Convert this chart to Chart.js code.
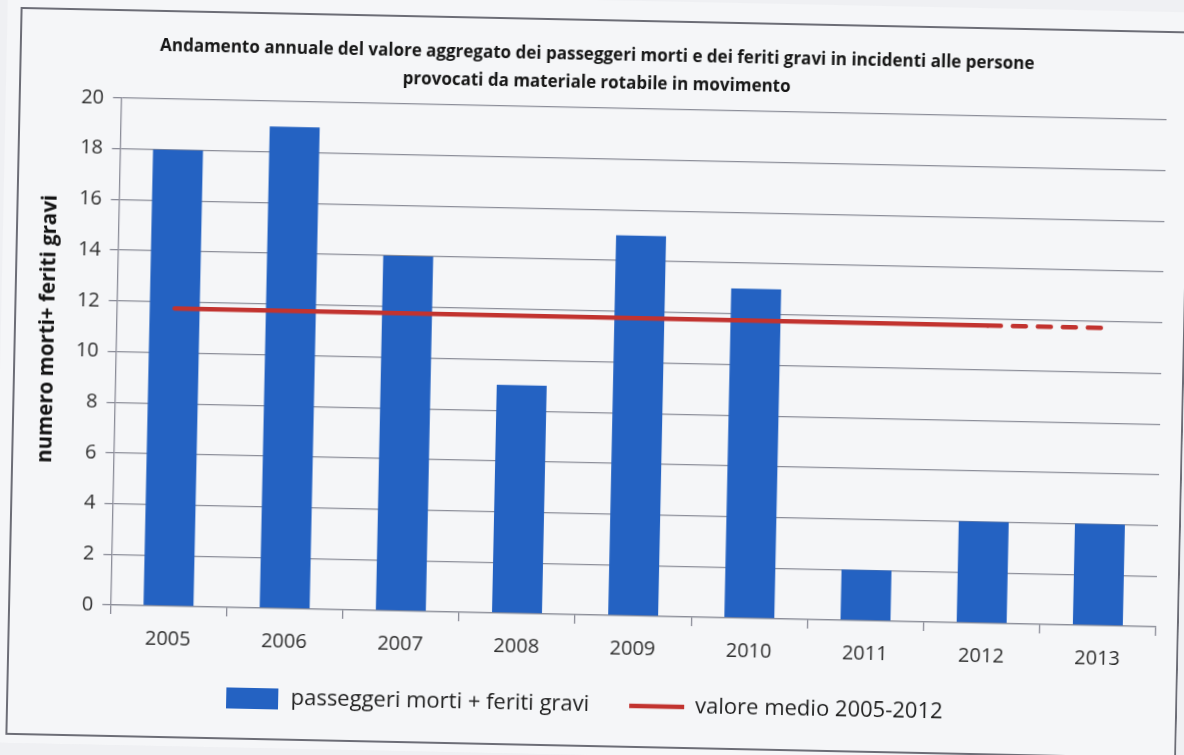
<!DOCTYPE html>
<html lang="it">
<head>
<meta charset="utf-8">
<title>Passeggeri morti e feriti gravi</title>
<script src="https://cdn.jsdelivr.net/npm/chart.js@4.4.1/dist/chart.umd.min.js"></script>
<style>
  html, body { margin: 0; padding: 0; background: #eff0f3; overflow: hidden; }
  #foglio {
    position: absolute; left: 0; top: 0;
    width: 1184px; height: 755px;
    transform: rotate(1.2deg);
    transform-origin: 592px 377px;
  }
  canvas { display: block; }
</style>
</head>
<body>
<div id="foglio"><canvas id="grafico" width="1184" height="755"></canvas></div>
<script>
// dati
const anni = ['2005', '2006', '2007', '2008', '2009', '2010', '2011', '2012', '2013'];
const mortiFeritiGravi = [18, 19, 14, 9, 15, 13, 2, 4, 4];
const valoreMedio = [11.75, 11.75, 11.75, 11.75, 11.75, 11.75, 11.75, 11.75, 11.75];
const asseY = { min: 0, max: 20, passo: 2 };

const titolo = [
  'Andamento annuale del valore aggregato dei passeggeri morti e dei feriti gravi in incidenti alle persone',
  'provocati da materiale rotabile in movimento'
];
const titoloAsseY = 'numero morti+ feriti gravi';
const etichettaBarre = 'passeggeri morti + feriti gravi';
const etichettaMedia = 'valore medio 2005-2012';

// colori
const BLU = '#2462c2';
const ROSSO = '#c2332f';
const GRIGIO = '#8c8e99';
const TESTO = '#2f2f2f';
const CARTA = '#f5f6f8';

Chart.defaults.font.family = "'Open Sans', sans-serif";

// quadratino blu per la legenda delle barre
const quadratoBlu = document.createElement('canvas');
quadratoBlu.width = 52;
quadratoBlu.height = 21;
const qctx = quadratoBlu.getContext('2d');
qctx.fillStyle = BLU;
qctx.fillRect(0, 0, 52, 21);

// sfondo e cornice del riquadro
const cornice = {
  id: 'cornice',
  beforeDraw(chart) {
    const ctx = chart.ctx;
    ctx.save();
    ctx.fillStyle = CARTA;
    ctx.fillRect(0, 0, chart.width, chart.height);
    ctx.strokeStyle = '#6c6d76';
    ctx.lineWidth = 2;
    ctx.strokeRect(14, 20, 1169, 726);
    ctx.restore();
  }
};

const ctx = document.getElementById('grafico').getContext('2d');
new Chart(ctx, {
  type: 'bar',
  data: {
    labels: anni,
    datasets: [
      {
        label: etichettaBarre,
        data: mortiFeritiGravi,
        backgroundColor: BLU,
        borderWidth: 0,
        categoryPercentage: 1,
        barPercentage: 0.43,
        order: 1
      },
      {
        type: 'line',
        label: etichettaMedia,
        data: valoreMedio,
        borderColor: ROSSO,
        backgroundColor: ROSSO,
        borderWidth: 4.5,
        borderCapStyle: 'round',
        pointRadius: 0,
        fill: false,
        order: 0,
        segment: {
          // dopo il 2012 la media e' solo proiettata
          borderDash: c => c.p0DataIndex >= 7 ? [13, 12] : undefined
        }
      }
    ]
  },
  options: {
    responsive: false,
    animation: false,
    devicePixelRatio: 1,
    layout: { padding: { left: 20, right: 23, top: 0, bottom: 29 } },
    plugins: {
      title: {
        display: true,
        text: titolo,
        color: '#161616',
        font: { size: 17, weight: 'bold', lineHeight: '28px' },
        padding: { top: 41, bottom: 11 }
      },
      legend: {
        position: 'bottom',
        labels: {
          usePointStyle: true,
          pointStyleWidth: 55,
          boxHeight: 21,
          padding: 40,
          color: '#1e1e1e',
          font: { size: 22 },
          generateLabels(chart) {
            const voci = Chart.defaults.plugins.legend.labels.generateLabels(chart);
            voci.sort((a, b) => a.datasetIndex - b.datasetIndex);
            voci.forEach(v => {
              v.pointStyle = v.datasetIndex === 0 ? quadratoBlu : 'line';
            });
            return voci;
          }
        }
      },
      tooltip: { enabled: false }
    },
    scales: {
      x: {
        grid: {
          offset: true,
          drawOnChartArea: false,
          drawTicks: true,
          tickLength: 9,
          color: GRIGIO,
          lineWidth: 1.3
        },
        border: { color: GRIGIO, width: 1.3 },
        ticks: { color: TESTO, font: { size: 20 }, padding: 12 },
        afterFit(scale) { scale.height -= 18; }
      },
      y: {
        min: asseY.min,
        max: asseY.max,
        ticks: { stepSize: asseY.passo, color: TESTO, font: { size: 20 }, padding: 9 },
        grid: { color: GRIGIO, lineWidth: 1.3, tickLength: 8, drawTicks: true },
        border: { color: GRIGIO, width: 1.3 },
        title: {
          display: true,
          // spazi iniziali: il titolo sta un po' sopra il centro dell'asse
          text: '        ' + titoloAsseY,
          color: '#141414',
          font: { size: 20.5, weight: 'bold' },
          padding: { top: 14.5, bottom: 7.3 }
        }
      }
    }
  },
  plugins: [cornice]
});
</script>
</body>
</html>
